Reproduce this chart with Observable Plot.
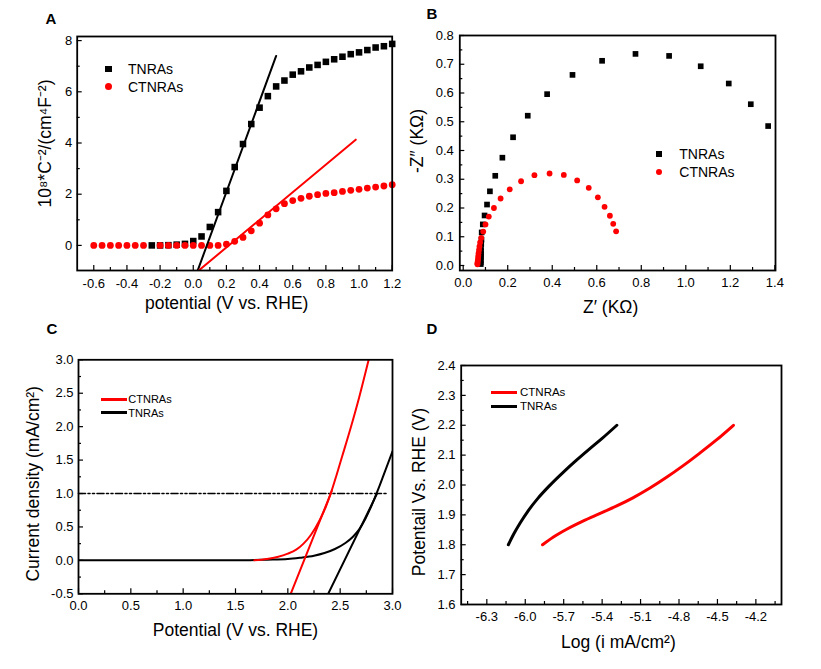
<!DOCTYPE html>
<html><head><meta charset="utf-8">
<script src="https://cdn.jsdelivr.net/npm/d3@7"></script>
<script src="https://cdn.jsdelivr.net/npm/@observablehq/plot@0.6"></script>
<style>
body{margin:0;background:#fff;}
#fig{position:relative;width:821px;height:669px;background:#fff;font-family:"Liberation Sans",Arial,Helvetica,sans-serif;color:#000;overflow:hidden;}
.plab{position:absolute;font-weight:bold;font-size:15px;line-height:1;transform:translate(-50%,-50%);}
.ltxt{position:absolute;line-height:1;white-space:nowrap;transform:translateY(-50%);}
.lsym{position:absolute;}
</style></head><body><div id="fig"></div>
<script>
// ---------- Panel A : Mott-Schottky ----------
const aTnX = [-0.25,-0.2,-0.15,-0.1,-0.05,0,0.05,0.1,0.15,0.2,0.25,0.3,0.35,0.4,0.45,0.5,0.55,0.6,0.65,0.7,0.75,0.8,0.85,0.9,0.95,1.0,1.05,1.1,1.15,1.2];
const aTnY = [0,0.0,0.01,0.03,0.06,0.17,0.35,0.72,1.3,2.13,3.06,3.96,4.74,5.38,5.83,6.21,6.44,6.67,6.8,6.95,7.05,7.17,7.27,7.37,7.47,7.54,7.63,7.73,7.78,7.87];
const aCtX = [-0.6,-0.55,-0.5,-0.45,-0.4,-0.35,-0.3,-0.2,-0.15,-0.1,-0.05,0,0.05,0.1,0.15,0.2,0.25,0.3,0.35,0.4,0.45,0.5,0.55,0.6,0.65,0.7,0.75,0.8,0.85,0.9,0.95,1.0,1.05,1.1,1.15,1.2];
const aCtY = [0,0,0,0,0,0,0,0,0,0,0,0,0,0,0,0.05,0.16,0.31,0.57,0.87,1.19,1.43,1.63,1.75,1.84,1.92,1.98,2.03,2.06,2.11,2.15,2.19,2.24,2.28,2.32,2.37];
const aTnFitX = [0.02, 0.5];
const aTnFitY = [-1.1, 7.4];
const aCtFitX = [0.02, 0.98];
const aCtFitY = [-1.05, 4.13];
const aXTicks = [-0.6,-0.4,-0.2,0,0.2,0.4,0.6,0.8,1.0,1.2];
const aXMinor = [-0.5,-0.3,-0.1,0.1,0.3,0.5,0.7,0.9,1.1];
const aYTicks = [0,2,4,6,8];
const aYMinor = [1,3,5,7];

// ---------- Panel B : Nyquist ----------
const bTnRe = [0.079,0.079,0.079,0.08,0.08,0.08,0.08,0.081,0.082,0.083,0.088,0.096,0.107,0.12,0.144,0.176,0.224,0.29,0.377,0.491,0.624,0.774,0.925,1.067,1.193,1.292,1.37];
const bTnIm = [0.005,0.012,0.02,0.03,0.04,0.05,0.062,0.075,0.09,0.115,0.143,0.174,0.212,0.258,0.312,0.375,0.446,0.521,0.596,0.663,0.712,0.736,0.729,0.693,0.633,0.561,0.485];
const bCtRe = [0.064,0.064,0.065,0.066,0.067,0.068,0.069,0.071,0.073,0.076,0.081,0.09,0.1,0.115,0.138,0.168,0.209,0.26,0.32,0.388,0.452,0.512,0.564,0.605,0.635,0.659,0.674,0.687];
const bCtIm = [0.004,0.008,0.013,0.019,0.026,0.034,0.043,0.054,0.066,0.08,0.096,0.118,0.143,0.17,0.2,0.233,0.265,0.293,0.314,0.32,0.315,0.296,0.27,0.237,0.204,0.173,0.145,0.119];
const bXTicks = [0,0.2,0.4,0.6,0.8,1.0,1.2,1.4];
const bXMinor = [0.1,0.3,0.5,0.7,0.9,1.1,1.3];
const bYTicks = [0,0.1,0.2,0.3,0.4,0.5,0.6,0.7,0.8];
const bYMinor = [0.05,0.15,0.25,0.35,0.45,0.55,0.65,0.75];

// ---------- Panel C : LSV ----------
const cTnV = [0,1.5,1.8,2.0,2.12,2.25,2.35,2.45,2.55,2.62,2.68,2.74,2.8,2.86,2.93,3.0];
const cTnJ = [0,0,0.01,0.02,0.04,0.07,0.11,0.17,0.26,0.35,0.46,0.62,0.82,1.05,1.34,1.63];
const cCtV = [1.68,1.8,1.9,2.0,2.08,2.15,2.22,2.3,2.36,2.41,2.47,2.52,2.6,2.68,2.78];
const cCtJ = [0.0,0.02,0.05,0.1,0.16,0.25,0.38,0.59,0.79,1.0,1.3,1.56,1.98,2.43,3.05];
const cTnTanV = [2.37, 2.85];
const cTnTanJ = [-0.55, 0.99];
const cCtTanV = [2.015, 2.42];
const cCtTanJ = [-0.55, 1.04];
const cRefV = [0, 2.95];
const cRefJ = [1, 1];
const cXTicks = [0,0.5,1.0,1.5,2.0,2.5,3.0];
const cXMinor = [0.25,0.75,1.25,1.75,2.25,2.75];
const cYTicks = [-0.5,0,0.5,1.0,1.5,2.0,2.5,3.0];
const cYMinor = [-0.25,0.25,0.75,1.25,1.75,2.25,2.75];

// ---------- Panel D : Tafel ----------
const dTnLog = [-6.132,-6.09,-6.04,-5.98,-5.9,-5.81,-5.7,-5.6,-5.5,-5.4,-5.285];
const dTnE = [1.8,1.836,1.873,1.912,1.956,1.998,2.044,2.083,2.12,2.156,2.2];
const dCtLog = [-5.865,-5.78,-5.68,-5.55,-5.42,-5.29,-5.16,-5.03,-4.9,-4.77,-4.64,-4.51,-4.375];
const dCtE = [1.8,1.826,1.851,1.879,1.904,1.929,1.957,1.989,2.025,2.064,2.106,2.15,2.2];
const dXTicks = [-6.3,-6.0,-5.7,-5.4,-5.1,-4.8,-4.5,-4.2];
const dXMinor = [-6.45,-6.15,-5.85,-5.55,-5.25,-4.95,-4.65,-4.35,-4.05];
const dYTicks = [1.6,1.7,1.8,1.9,2.0,2.1,2.2,2.3,2.4];
const dYMinor = [1.65,1.75,1.85,1.95,2.05,2.15,2.25,2.35];

const seriesNames = ["TNRAs", "CTNRAs"];
const RED = "#ff0000";
const fontFam = '"Liberation Sans", Arial, Helvetica, sans-serif';
const fmt0 = d => d.toFixed(0);
const fmt1 = d => d.toFixed(1);
const pts = (xs, ys) => xs.map((x, i) => ({x, y: ys[i]}));
const fig = document.getElementById("fig");

function panel(o) {
  const [fl, ft, fr, fb] = o.frame;
  const W = fr - fl, H = fb - ft;
  const tk = {stroke: "black", strokeWidth: 1.2};
  const marks = [
    ...o.marks,
    Plot.frame({stroke: "black", strokeWidth: 1.8}),
    Plot.tickX(o.xMinor, {x: d => d, insetTop: H - 3, ...tk}),
    Plot.tickX(o.xTicks, {x: d => d, insetTop: H - 5, ...tk}),
    Plot.tickY(o.yMinor, {y: d => d, insetRight: W - 3, ...tk}),
    Plot.tickY(o.yTicks, {y: d => d, insetRight: W - 5, ...tk}),
    Plot.text(o.xTicks, {x: d => d, text: o.xFmt, frameAnchor: "bottom", lineAnchor: "top", textAnchor: "middle", dy: o.xPad, fontSize: 13, fill: "black"}),
    Plot.text(o.yTicks, {y: d => d, text: o.yFmt, frameAnchor: "left", textAnchor: "end", lineAnchor: "middle", dx: -o.yPad, fontSize: 13, fill: "black"}),
    Plot.text([o.xLabel], {text: d => d, frameAnchor: "bottom", textAnchor: "middle", lineAnchor: "middle", dx: o.xLabelDx, dy: o.xLabelDy, fontSize: 17.5, fill: "black"}),
    Plot.text([o.yLabel], {text: d => d, frameAnchor: "left", textAnchor: "middle", lineAnchor: "middle", rotate: -90, dx: o.yLabelDx, dy: o.yLabelDy, fontSize: 17.5, fill: "black"})
  ];
  const svg = Plot.plot({
    width: o.width, height: o.height,
    marginLeft: fl - o.left, marginTop: ft - o.top,
    marginRight: o.left + o.width - fr, marginBottom: o.top + o.height - fb,
    x: {domain: o.xDomain, axis: null},
    y: {domain: o.yDomain, axis: null},
    style: {fontFamily: fontFam, background: "transparent", color: "black", overflow: "visible"},
    marks
  });
  svg.style.position = "absolute";
  svg.style.left = o.left + "px";
  svg.style.top = o.top + "px";
  fig.appendChild(svg);
}

function letter(t, x, y) {
  const d = document.createElement("div");
  d.className = "plab"; d.textContent = t;
  d.style.left = x + "px"; d.style.top = y + "px";
  fig.appendChild(d);
}
function legItem(it) {
  const s = document.createElement("div");
  s.className = "lsym";
  if (it.type === "square") {
    Object.assign(s.style, {left: (it.cx - it.size / 2) + "px", top: (it.cy - it.size / 2) + "px", width: it.size + "px", height: it.size + "px", background: it.color});
  } else if (it.type === "circle") {
    Object.assign(s.style, {left: (it.cx - it.size / 2) + "px", top: (it.cy - it.size / 2) + "px", width: it.size + "px", height: it.size + "px", background: it.color, borderRadius: "50%"});
  } else {
    Object.assign(s.style, {left: it.x1 + "px", top: (it.cy - it.size / 2) + "px", width: (it.x2 - it.x1) + "px", height: it.size + "px", background: it.color});
  }
  fig.appendChild(s);
  const t = document.createElement("div");
  t.className = "ltxt"; t.textContent = it.text;
  Object.assign(t.style, {left: it.tx + "px", top: it.cy + "px", fontSize: it.fs + "px"});
  fig.appendChild(t);
}

// Panel A
panel({
  left: 0, top: 0, width: 410, height: 320, frame: [76.7, 36, 391.7, 270],
  xDomain: [-0.7, 1.2], yDomain: [-0.98, 8.16],
  xTicks: aXTicks, xMinor: aXMinor, yTicks: aYTicks, yMinor: aYMinor,
  xFmt: fmt1, yFmt: fmt0, xPad: 8, yPad: 5,
  xLabel: "potential (V vs. RHE)", xLabelDx: -8, xLabelDy: 33,
  yLabel: "10⁸*C⁻²/(cm⁴F⁻²)", yLabelDx: -32, yLabelDy: -10,
  marks: [
    Plot.dot(pts(aTnX, aTnY), {x: "x", y: "y", symbol: "square", r: 3.7, fill: "black", stroke: "none"}),
    Plot.dot(pts(aCtX, aCtY), {x: "x", y: "y", r: 3.4, fill: RED, stroke: "none"}),
    Plot.line(pts(aTnFitX, aTnFitY), {x: "x", y: "y", stroke: "black", strokeWidth: 2, clip: true}),
    Plot.line(pts(aCtFitX, aCtFitY), {x: "x", y: "y", stroke: RED, strokeWidth: 2, clip: true})
  ]
});

// Panel B
panel({
  left: 410, top: 0, width: 411, height: 320, frame: [459.3, 35, 775, 270],
  xDomain: [-0.0153, 1.403], yDomain: [-0.0174, 0.8],
  xTicks: bXTicks, xMinor: bXMinor, yTicks: bYTicks, yMinor: bYMinor,
  xFmt: fmt1, yFmt: fmt1, xPad: 7, yPad: 6,
  xLabel: "Z′ (KΩ)", xLabelDx: -7, xLabelDy: 37,
  yLabel: "-Z″ (KΩ)", yLabelDx: -42, yLabelDy: -12,
  marks: [
    Plot.dot(pts(bTnRe, bTnIm), {x: "x", y: "y", symbol: "square", r: 3.2, fill: "black", stroke: "none"}),
    Plot.dot(pts(bCtRe, bCtIm), {x: "x", y: "y", r: 2.9, fill: RED, stroke: "none"})
  ]
});

// Panel C
panel({
  left: 0, top: 320, width: 410, height: 349, frame: [78, 359.3, 392, 593.3],
  xDomain: [0, 3], yDomain: [-0.5, 3],
  xTicks: cXTicks, xMinor: cXMinor, yTicks: cYTicks, yMinor: cYMinor,
  xFmt: fmt1, yFmt: fmt1, xPad: 7, yPad: 5,
  xLabel: "Potential (V vs. RHE)", xLabelDx: 0, xLabelDy: 37,
  yLabel: "Current density (mA/cm²)", yLabelDx: -45, yLabelDy: 7,
  marks: [
    Plot.line(pts(cRefV, cRefJ), {x: "x", y: "y", stroke: "black", strokeWidth: 1.6, strokeDasharray: "7,2.5,2,2.5,2,2.5"}),
    Plot.line(pts(cTnV, cTnJ), {x: "x", y: "y", stroke: "black", strokeWidth: 2, curve: "monotone-x", clip: true}),
    Plot.line(pts(cTnTanV, cTnTanJ), {x: "x", y: "y", stroke: "black", strokeWidth: 2, clip: true}),
    Plot.line(pts(cCtV, cCtJ), {x: "x", y: "y", stroke: RED, strokeWidth: 2, curve: "monotone-x", clip: true}),
    Plot.line(pts(cCtTanV, cCtTanJ), {x: "x", y: "y", stroke: RED, strokeWidth: 2, clip: true})
  ]
});

// Panel D
panel({
  left: 410, top: 320, width: 411, height: 349, frame: [460.7, 365, 781, 604],
  xDomain: [-6.5, -4.0], yDomain: [1.6, 2.4],
  xTicks: dXTicks, xMinor: dXMinor, yTicks: dYTicks, yMinor: dYMinor,
  xFmt: fmt1, yFmt: fmt1, xPad: 7.5, yPad: 5.7,
  xLabel: "Log (i mA/cm²)", xLabelDx: -3, xLabelDy: 38,
  yLabel: "Potentail Vs. RHE (V)", yLabelDx: -42, yLabelDy: 7,
  marks: [
    Plot.line(pts(dTnLog, dTnE), {x: "x", y: "y", stroke: "black", strokeWidth: 3, curve: "monotone-x"}),
    Plot.line(pts(dCtLog, dCtE), {x: "x", y: "y", stroke: RED, strokeWidth: 3, curve: "monotone-x"})
  ]
});

// Panel letters
letter("A", 51, 18);
letter("B", 432, 13);
letter("C", 52, 328);
letter("D", 432, 328);

// Legends
legItem({type: "square", cx: 108.3, cy: 69, size: 6.6, color: "black", text: seriesNames[0], tx: 128, fs: 14});
legItem({type: "circle", cx: 108.3, cy: 86.7, size: 7, color: RED, text: seriesNames[1], tx: 128, fs: 14});
legItem({type: "square", cx: 659.3, cy: 154, size: 6, color: "black", text: seriesNames[0], tx: 679.3, fs: 14});
legItem({type: "circle", cx: 659.3, cy: 172.3, size: 6, color: RED, text: seriesNames[1], tx: 679.3, fs: 14});
legItem({type: "line", x1: 100.7, x2: 126.7, cy: 399.3, size: 2.5, color: RED, text: seriesNames[1], tx: 128.3, fs: 11});
legItem({type: "line", x1: 100.7, x2: 126.7, cy: 412.7, size: 2.5, color: "black", text: seriesNames[0], tx: 128.3, fs: 11});
legItem({type: "line", x1: 490.7, x2: 517.3, cy: 392.7, size: 3, color: RED, text: seriesNames[1], tx: 520, fs: 11.5});
legItem({type: "line", x1: 490.7, x2: 517.3, cy: 406.7, size: 3, color: "black", text: seriesNames[0], tx: 520, fs: 11.5});
</script></body></html>
